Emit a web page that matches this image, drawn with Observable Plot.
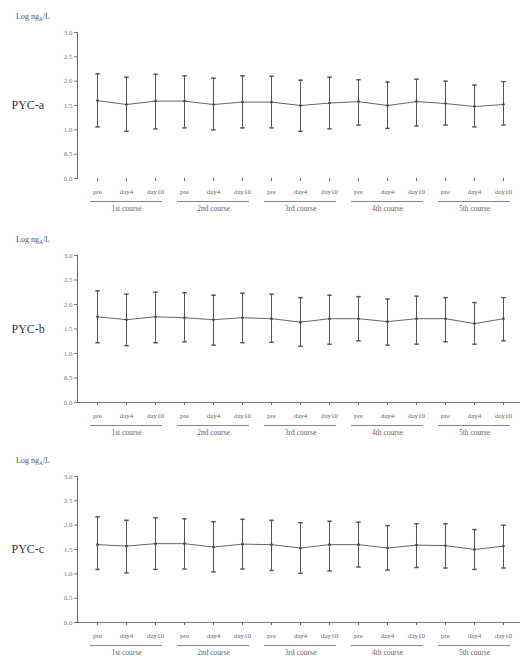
<!DOCTYPE html>
<html><head><meta charset="utf-8">
<script src="https://cdn.jsdelivr.net/npm/d3@7"></script>
<script src="https://cdn.jsdelivr.net/npm/@observablehq/plot@0.6"></script>
<style>body{margin:0;background:#fff;} svg{display:block}</style>
</head><body><div id="chart"></div>
<script>
const timepoints = ["pre", "day4", "day10"];
const courses = ["1st course", "2nd course", "3rd course", "4th course", "5th course"];
const yTicks = [0, 0.5, 1.0, 1.5, 2.0, 2.5, 3.0];
const panelNames = ["PYC-a", "PYC-b", "PYC-c"];

const pycAMean  = [1.60, 1.52, 1.59, 1.59, 1.52, 1.57, 1.57, 1.50, 1.55, 1.58, 1.50, 1.58, 1.54, 1.48, 1.52];
const pycAUpper = [2.15, 2.08, 2.14, 2.11, 2.06, 2.11, 2.10, 2.02, 2.08, 2.03, 1.98, 2.04, 2.00, 1.92, 1.99];
const pycALower = [1.06, 0.97, 1.02, 1.04, 1.00, 1.04, 1.04, 0.97, 1.02, 1.10, 1.03, 1.08, 1.10, 1.06, 1.10];

const pycBMean  = [1.75, 1.69, 1.75, 1.73, 1.69, 1.73, 1.71, 1.64, 1.71, 1.71, 1.65, 1.71, 1.71, 1.61, 1.71];
const pycBUpper = [2.28, 2.21, 2.25, 2.24, 2.19, 2.23, 2.21, 2.14, 2.19, 2.16, 2.11, 2.17, 2.14, 2.04, 2.14];
const pycBLower = [1.22, 1.16, 1.22, 1.24, 1.17, 1.22, 1.23, 1.15, 1.19, 1.26, 1.17, 1.19, 1.24, 1.19, 1.26];

const pycCMean  = [1.60, 1.57, 1.62, 1.62, 1.55, 1.61, 1.60, 1.53, 1.60, 1.60, 1.53, 1.59, 1.58, 1.50, 1.57];
const pycCUpper = [2.17, 2.10, 2.15, 2.13, 2.07, 2.12, 2.10, 2.05, 2.08, 2.06, 1.99, 2.03, 2.03, 1.91, 2.00];
const pycCLower = [1.09, 1.02, 1.09, 1.10, 1.04, 1.10, 1.07, 1.01, 1.06, 1.14, 1.08, 1.13, 1.12, 1.09, 1.12];

const panels = [
  {name: panelNames[0], mean: pycAMean, upper: pycAUpper, lower: pycALower, height: 218, top: 32, bottom: 40, baseline: false},
  {name: panelNames[1], mean: pycBMean, upper: pycBUpper, lower: pycBLower, height: 220, top: 37, bottom: 36, baseline: true},
  {name: panelNames[2], mean: pycCMean, upper: pycCUpper, lower: pycCLower, height: 218, top: 38, bottom: 34, baseline: true}
];

const keys = [];
courses.forEach((c, i) => timepoints.forEach(t => keys.push(i + "|" + t)));
const courseRows = courses.map((c, i) => ({name: c, first: i + "|" + timepoints[0], mid: i + "|" + timepoints[1], last: i + "|" + timepoints[2]}));

const capSymbol = {draw(context) { context.moveTo(-2.2, 0); context.lineTo(2.2, 0); }};

const ink = "#555";
const root = document.getElementById("chart");

panels.forEach(p => {
  const rows = keys.map((k, i) => ({key: k, mean: p.mean[i], upper: p.upper[i], lower: p.lower[i]}));
  const marks = [
    Plot.frame({anchor: "left", stroke: "#666"}),
    Plot.axisY({ticks: yTicks, tickFormat: d3.format(".1f"), tickSize: 3, tickPadding: 2, label: null, fontSize: 7, color: "#777"}),
    Plot.axisX({tickSize: 3, tickPadding: 8, label: null, tickFormat: k => k.split("|")[1], fontSize: 7, color: "#666"}),
    Plot.ruleX(rows, {x: "key", y1: "lower", y2: "upper", stroke: ink, strokeWidth: 1}),
    Plot.dot(rows, {x: "key", y: "upper", symbol: capSymbol, stroke: ink, fill: "none"}),
    Plot.dot(rows, {x: "key", y: "lower", symbol: capSymbol, stroke: ink, fill: "none"}),
    Plot.line(rows, {x: "key", y: "mean", stroke: "#666", strokeWidth: 1}),
    Plot.dot(rows, {x: "key", y: "mean", r: 1.3, fill: "#444", stroke: null}),
    Plot.ruleY(courseRows, {y: () => 0, x1: "first", x2: "last", dy: 23, stroke: "#888", insetLeft: -7, insetRight: -7}),
    Plot.text(courseRows, {x: "mid", y: () => 0, dy: 30, text: "name", fontSize: 7.5, fill: "#666"}),
    Plot.text([p.name], {frameAnchor: "left", y: () => 1.5, dx: -66, textAnchor: "start", text: d => d, fontSize: 12, fill: "#333"})
  ];
  if (p.baseline) marks.unshift(Plot.ruleY([0], {stroke: "#777"}));
  const svg = Plot.plot({
    width: 520,
    height: p.height,
    marginLeft: 77,
    marginRight: 0,
    marginTop: p.top,
    marginBottom: p.bottom,
    style: {fontFamily: "'Liberation Serif', serif", background: "#fff", color: "#555"},
    x: {type: "point", domain: keys, padding: 0, insetLeft: 18, insetRight: 15},
    y: {domain: [0, 3]},
    marks
  });
  const lab = d3.select(svg).append("text")
    .attr("x", 33).attr("y", p.top - 13)
    .attr("font-size", 8).attr("fill", "#555")
    .attr("font-family", "'Liberation Serif', serif");
  lab.append("tspan").text("Log ng");
  lab.append("tspan").attr("font-size", 5.5).attr("dy", 2).text("A");
  lab.append("tspan").attr("dy", -2).text("/L");
  root.appendChild(svg);
});
</script></body></html>
